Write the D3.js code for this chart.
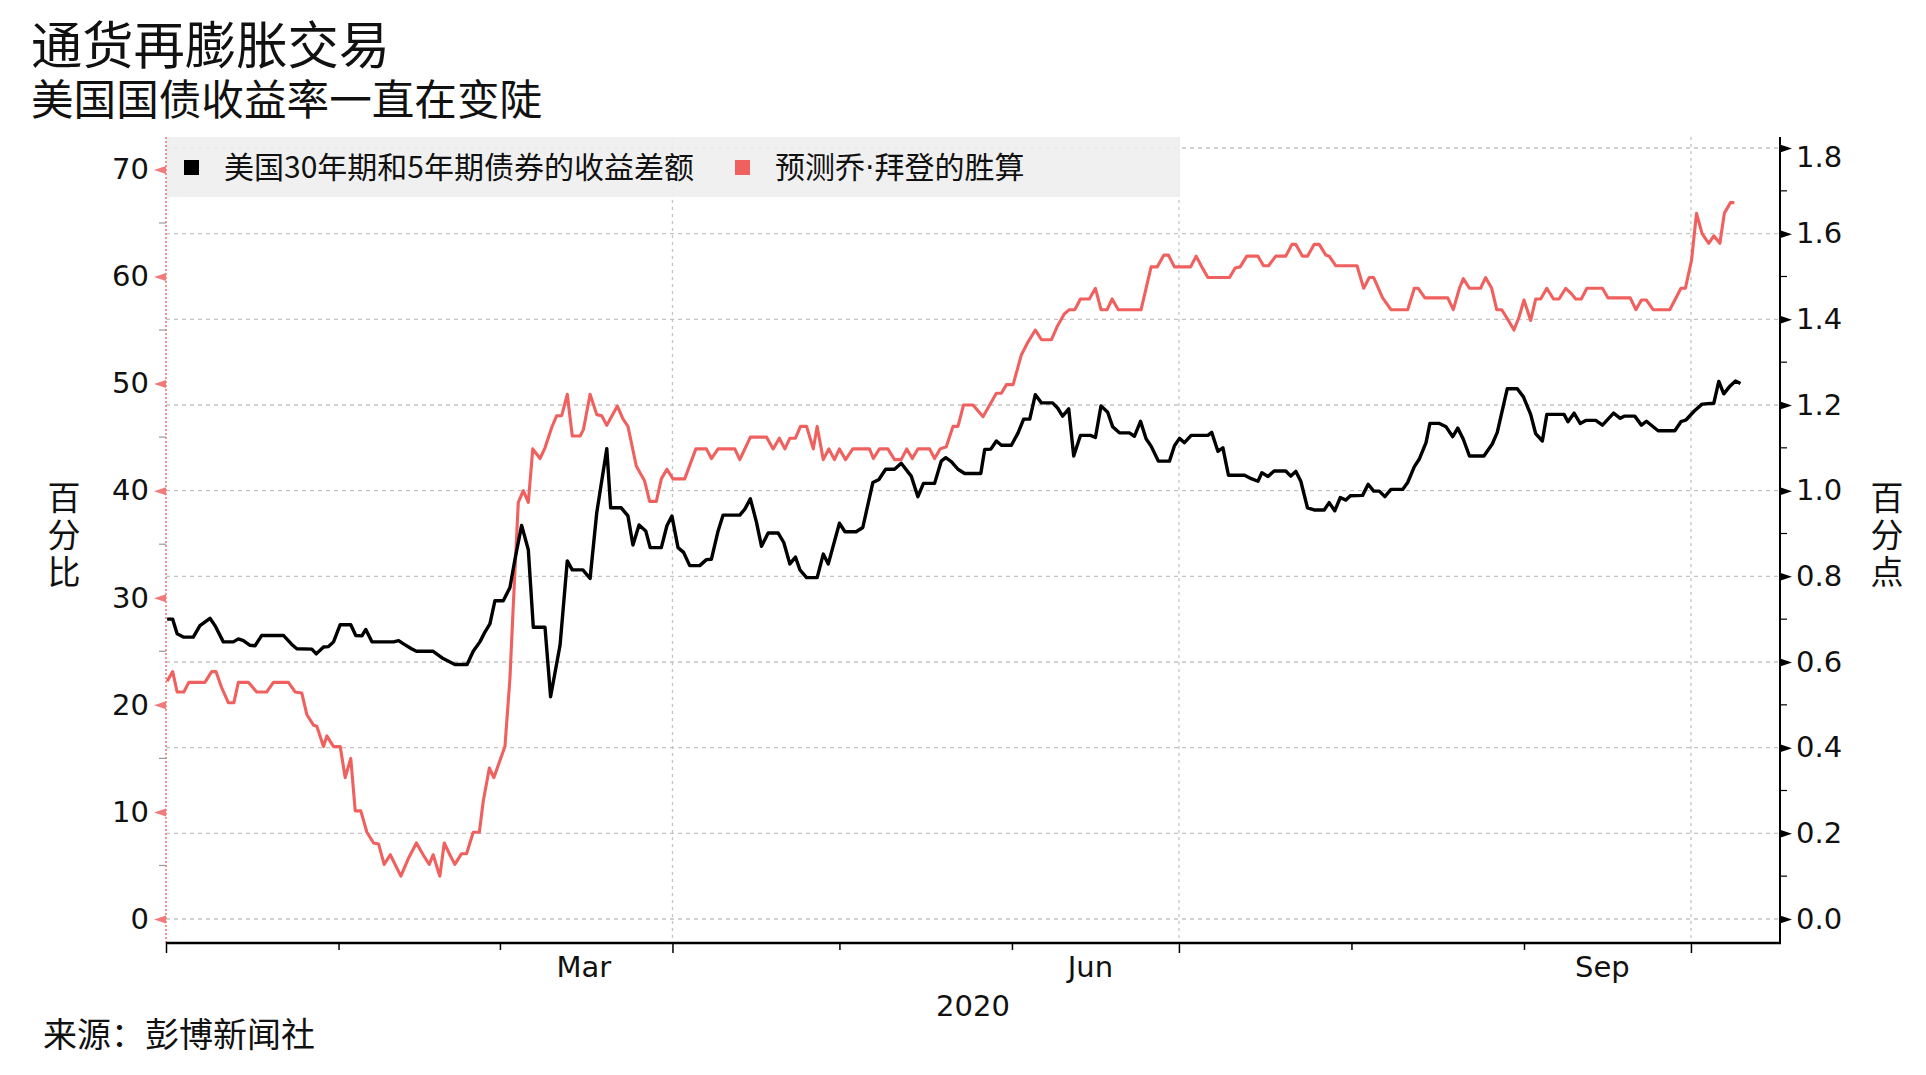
<!DOCTYPE html>
<html>
<head>
<meta charset="utf-8">
<script src="https://cdn.jsdelivr.net/npm/d3@7"></script>
<style>
  html, body { margin: 0; padding: 0; background: #fff; }
  svg { display: block; }
  .vtitle { writing-mode: vertical-rl; text-orientation: upright; }
</style>
</head>
<body>
<svg id="chart" width="1926" height="1075"></svg>
<script>
// ---------- DATA ----------
const titleText = "通货再膨胀交易";
const subtitleText = "美国国债收益率一直在变陡";
const sourceText = "来源：彭博新闻社";
const seriesNames = ["美国30年期和5年期债券的收益差额", "预测乔·拜登的胜算"];
const leftAxisTitle = "百分比";
const rightAxisTitle = "百分点";
const yearLabel = "2020";
const leftTicks = [0, 10, 20, 30, 40, 50, 60, 70];
const rightTicks = [0, 0.2, 0.4, 0.6, 0.8, 1.0, 1.2, 1.4, 1.6, 1.8];
const monthLabels = ["Mar", "Jun", "Sep"];
const monthLabelDates = ["2020-03-16", "2020-06-15", "2020-09-15"];

// days since 2020-01-01 ; spread in percentage points (right axis)
const blackDay = [0.2,1.2,2.0,3.2,4.9,6.1,7.9,8.8,10.3,12.1,13.0,13.9,15.1,16.0,17.2,21.1,22.6,23.5,26.2,27.0,28.3,29.2,30.1,31.3,33.2,34.1,35.2,35.9,37.0,40.9,41.8,42.6,44.1,45.0,48.0,49.8,51.9,54.1,55.2,56.4,57.3,58.2,59.1,60.6,61.8,62.7,63.9,65.1,66.0,68.1,69.1,70.8,72.1,73.0,74.9,76.2,77.4,79.2,79.9,81.8,83.0,83.9,85.0,86.2,87.0,89.0,90.0,90.9,92.0,93.0,94.1,95.9,97.1,98.0,99.2,100.1,103.1,104.0,105.0,106.1,107.0,108.2,110.0,111.0,112.1,113.1,113.9,115.1,117.0,118.1,119.0,121.0,122.0,124.0,125.2,127.0,128.1,129.3,130.9,132.1,133.9,135.1,136.1,138.1,139.3,140.1,141.1,142.3,143.5,145.3,146.4,147.1,148.2,149.2,150.1,151.9,153.1,154.1,155.2,156.2,157.3,159.3,160.2,161.1,162.2,163.1,164.3,166.1,167.0,168.0,169.2,170.1,171.3,173.1,174.0,175.1,176.1,177.0,178.3,180.3,181.2,182.1,183.0,184.2,187.2,187.9,189.0,189.9,190.9,193.8,195.0,196.2,196.9,198.0,199.1,201.2,202.1,203.0,203.9,205.1,206.3,208.1,209.0,210.0,211.0,212.0,212.8,215.0,216.0,217.0,218.0,219.0,220.1,222.2,223.1,224.3,225.2,226.4,227.1,228.8,230.0,231.2,232.1,233.1,234.2,236.8,238.3,239.2,241.0,242.8,243.9,245.2,246.1,247.3,248.1,251.2,251.9,253.0,254.1,255.1,256.9,258.1,260.1,261.3,262.0,263.9,265.1,266.0,268.1,271.1,272.2,273.1,274.6,276.0,278.1,279.0,279.9,281.0,282.0,282.9];
const blackVal = [0.700,0.700,0.666,0.658,0.658,0.685,0.702,0.685,0.647,0.647,0.654,0.650,0.639,0.638,0.662,0.662,0.641,0.631,0.630,0.619,0.635,0.636,0.647,0.687,0.687,0.662,0.661,0.676,0.647,0.647,0.650,0.643,0.631,0.625,0.625,0.608,0.594,0.594,0.625,0.647,0.670,0.689,0.743,0.743,0.774,0.840,0.919,0.862,0.681,0.681,0.519,0.639,0.836,0.815,0.815,0.795,0.949,1.098,0.960,0.960,0.941,0.873,0.920,0.906,0.867,0.867,0.918,0.941,0.867,0.856,0.825,0.825,0.839,0.840,0.906,0.943,0.943,0.957,0.981,0.926,0.870,0.901,0.901,0.879,0.829,0.845,0.815,0.797,0.797,0.852,0.829,0.924,0.904,0.904,0.914,1.019,1.026,1.050,1.050,1.064,1.034,0.986,1.017,1.017,1.069,1.077,1.068,1.050,1.040,1.040,1.040,1.096,1.097,1.116,1.106,1.106,1.135,1.167,1.167,1.224,1.205,1.205,1.193,1.174,1.191,1.081,1.129,1.129,1.124,1.198,1.183,1.149,1.135,1.135,1.127,1.162,1.121,1.104,1.069,1.069,1.105,1.122,1.112,1.129,1.129,1.136,1.092,1.100,1.036,1.036,1.028,1.022,1.042,1.033,1.046,1.046,1.034,1.045,1.022,0.960,0.955,0.955,0.972,0.953,0.984,0.978,0.988,0.989,1.015,0.999,0.999,0.986,1.003,1.003,1.019,1.056,1.074,1.112,1.157,1.157,1.149,1.126,1.146,1.120,1.081,1.081,1.109,1.136,1.238,1.238,1.219,1.178,1.133,1.116,1.178,1.178,1.161,1.181,1.157,1.164,1.164,1.153,1.181,1.169,1.174,1.174,1.153,1.162,1.140,1.140,1.161,1.165,1.186,1.202,1.204,1.255,1.226,1.244,1.256,1.250];

// days since 2020-01-01 ; Biden win odds in percent (left axis)
const redDay = [0.2,1.2,2.0,3.2,4.1,7.0,8.2,9.0,10.0,11.2,12.2,13.0,14.8,16.3,18.1,19.3,22.0,23.2,24.4,25.3,26.5,27.1,28.3,28.9,30.1,31.3,32.2,33.2,34.0,35.0,36.1,37.3,38.2,39.2,40.3,42.2,43.5,45.0,46.2,47.3,48.0,49.2,50.0,51.0,51.9,53.1,54.0,55.2,56.3,57.0,58.1,58.9,60.9,61.8,62.4,63.3,64.2,65.1,65.9,67.2,68.1,69.3,70.2,71.1,72.1,73.0,74.4,75.0,76.2,77.4,78.3,79.2,81.1,82.1,83.0,84.5,86.0,86.9,88.1,89.0,90.0,91.1,93.2,95.2,97.1,98.0,99.2,102.2,103.1,105.0,107.9,109.1,110.2,111.2,112.1,113.1,114.0,115.1,116.3,117.0,118.1,119.1,120.1,121.0,122.1,123.4,126.4,127.1,128.2,129.7,130.9,132.1,133.1,134.1,135.1,137.2,138.1,139.1,140.2,141.4,142.3,143.3,145.0,146.8,148.0,149.2,150.1,151.0,152.2,153.7,154.9,156.2,157.3,159.1,160.1,161.4,162.3,163.3,164.3,165.9,167.0,168.0,169.1,170.0,171.1,175.2,177.0,178.1,179.3,180.1,181.2,184.1,185.1,186.0,187.2,191.1,192.1,193.0,194.2,196.2,197.2,198.1,199.4,201.2,202.3,203.0,204.2,205.1,206.3,207.2,208.4,209.0,210.2,214.0,215.2,216.2,217.0,218.6,220.1,223.1,224.3,225.0,226.2,230.3,231.3,232.4,233.1,234.2,236.2,237.1,238.2,239.1,240.0,241.2,242.2,243.1,244.0,245.2,246.1,247.0,248.1,249.3,250.3,251.5,252.5,253.3,254.3,255.3,258.1,259.1,263.1,264.1,265.1,266.0,267.2,270.2,271.3,272.2,273.0,274.1,275.0,276.0,277.2,278.1,279.2,280.0,281.1,281.8];
const redVal = [22.2,23.1,21.2,21.2,22.1,22.1,23.1,23.1,21.6,20.2,20.2,22.1,22.1,21.2,21.2,22.1,22.1,21.2,21.1,19.1,18.1,18.0,16.1,17.1,16.1,16.1,13.2,15.0,10.1,10.1,8.1,7.1,7.0,5.1,6.0,4.0,5.6,7.1,6.0,5.1,6.0,4.0,7.1,6.0,5.1,6.1,6.1,8.1,8.1,11.0,14.1,13.2,16.1,22.5,29.3,38.9,40.0,38.9,43.9,43.0,44.0,45.9,47.0,47.0,49.0,45.1,45.1,45.7,49.0,47.1,47.0,46.1,47.9,46.7,46.0,42.3,40.9,39.0,39.0,41.1,42.0,41.1,41.1,43.9,43.9,43.0,43.9,43.9,42.9,45.0,45.0,43.9,44.9,43.9,44.9,44.9,46.0,46.0,43.9,46.0,42.9,43.9,42.9,43.9,42.9,43.9,43.9,43.0,43.9,43.9,42.9,42.9,43.9,43.0,43.9,43.9,43.0,43.9,44.1,46.0,46.0,48.0,48.0,46.9,48.0,49.1,49.1,49.9,49.9,52.7,53.9,55.0,54.1,54.1,55.3,56.5,56.9,56.9,57.9,57.9,58.9,56.9,56.9,57.9,56.9,56.9,60.9,60.9,62.0,62.0,60.9,60.9,61.9,61.0,59.9,59.9,60.8,60.9,61.9,61.9,61.0,61.0,61.9,61.9,63.0,63.0,61.9,61.9,63.0,63.0,62.0,61.9,61.0,61.0,58.9,59.9,59.9,58.0,56.9,56.9,58.9,58.9,58.0,58.0,56.9,58.9,59.8,58.9,58.9,59.9,58.9,56.9,56.9,55.9,55.0,56.2,57.8,55.9,57.9,57.9,58.9,57.9,57.9,58.9,58.4,57.9,57.9,58.9,58.9,58.0,58.0,56.9,57.8,57.8,56.9,56.9,58.0,58.9,58.9,61.5,65.9,64.0,63.1,63.8,63.1,65.9,66.9,66.9];

// ---------- LAYOUT ----------
const plot = { left: 166, right: 1780, top: 137, bottom: 943 };
const y0 = 919, yTop = 148;  // pixel of 0 and of the top tick
const startMs = Date.UTC(2020, 0, 1);
const dayToDate = d => new Date(startMs + d * 864e5);

const x = d3.scaleUtc()
  .domain([new Date(Date.UTC(2020, 0, 1)), new Date(Date.UTC(2020, 9, 17))])
  .range([plot.left, plot.right]);
const yR = d3.scaleLinear().domain([0, 1.8]).range([y0, yTop]);
const yL = d3.scaleLinear().domain([0, 72]).range([y0, yTop]);

const RED = "#f0605e";
const PINK = "#f27a7a";
const numFont = "'DejaVu Sans', Verdana, sans-serif";
const cjkFont = "'Noto Sans CJK SC', 'Noto Sans', sans-serif";

const svg = d3.select("#chart");

// Title block (title + subtitle as two lines of one text)
const head = svg.append("text").attr("font-family", cjkFont).attr("fill", "#111");
head.append("tspan").attr("x", 31).attr("y", 64).attr("font-size", 51.3).text(titleText);
head.append("tspan").attr("x", 31).attr("y", 115).attr("font-size", 42.6).text(subtitleText);

// Horizontal grid lines (at right-axis ticks)
svg.append("g").selectAll("line").data(rightTicks).join("line")
  .attr("x1", plot.left).attr("x2", plot.right)
  .attr("y1", d => yR(d)).attr("y2", d => yR(d))
  .attr("stroke", "#c4c4c4").attr("stroke-width", 1.3)
  .attr("stroke-dasharray", "4,4");

// Vertical grid lines at quarter starts
const quarterDates = d3.utcMonth.range(new Date(Date.UTC(2020, 3, 1)), new Date(Date.UTC(2020, 9, 2)), 3);
svg.append("g").selectAll("line").data(quarterDates).join("line")
  .attr("x1", d => x(d)).attr("x2", d => x(d))
  .attr("y1", plot.top).attr("y2", plot.bottom)
  .attr("stroke", "#c4c4c4").attr("stroke-width", 1.3)
  .attr("stroke-dasharray", "3,4");

// Legend
const lg = svg.append("g");
lg.append("rect").attr("x", plot.left).attr("y", plot.top)
  .attr("width", 1180 - plot.left).attr("height", 60)
  .attr("fill", "#eeeeee").attr("fill-opacity", 0.9);
const legendItems = [
  { name: seriesNames[0], color: "#000", sx: 184, tx: 224 },
  { name: seriesNames[1], color: RED, sx: 735, tx: 775 }
];
legendItems.forEach(it => {
  lg.append("rect").attr("x", it.sx).attr("y", 160).attr("width", 15).attr("height", 15).attr("fill", it.color);
  const t = lg.append("text").attr("x", it.tx).attr("y", 178)
    .attr("font-family", cjkFont).attr("font-size", 30).attr("fill", "#111");
  // render the middle dot narrow, as in the reference
  it.name.split(/(·)/).forEach(part => {
    const sp = t.append("tspan").text(part);
    if (part === "·") sp.attr("font-family", numFont);
  });
});

// Lines
const blackData = blackDay.map((d, i) => ({ date: dayToDate(d), v: blackVal[i] }));
const redData = redDay.map((d, i) => ({ date: dayToDate(d), v: redVal[i] }));

svg.append("path").datum(redData)
  .attr("fill", "none").attr("stroke", RED).attr("stroke-width", 3.1)
  .attr("stroke-linejoin", "round")
  .attr("d", d3.line().x(d => x(d.date)).y(d => yL(d.v)));
svg.append("path").datum(blackData)
  .attr("fill", "none").attr("stroke", "#000").attr("stroke-width", 3.4)
  .attr("stroke-linejoin", "round")
  .attr("d", d3.line().x(d => x(d.date)).y(d => yR(d.v)));

// Left axis (pink, dotted line)
svg.append("line").attr("x1", plot.left).attr("x2", plot.left)
  .attr("y1", plot.top).attr("y2", plot.bottom)
  .attr("stroke", PINK).attr("stroke-width", 1.6).attr("stroke-dasharray", "2,2");
const leftAxis = svg.append("g").attr("transform", `translate(${plot.left},0)`)
  .call(d3.axisLeft(yL).tickValues(leftTicks).tickSize(0).tickPadding(17).tickFormat(d3.format("d")));
leftAxis.select(".domain").remove();
leftAxis.selectAll(".tick text").attr("font-family", numFont).attr("font-size", 29).attr("fill", "#111");
leftAxis.selectAll(".tick").append("path").attr("d", "M0,-4L-12,0L0,4Z").attr("fill", PINK);
const leftMinor = d3.range(5, 70, 10);
svg.append("g").selectAll("line").data(leftMinor).join("line")
  .attr("x1", plot.left - 7).attr("x2", plot.left)
  .attr("y1", d => yL(d)).attr("y2", d => yL(d))
  .attr("stroke", "#999").attr("stroke-width", 1.2);

// Right axis (black)
const rightAxis = svg.append("g").attr("transform", `translate(${plot.right},0)`)
  .call(d3.axisRight(yR).tickValues(rightTicks).tickSize(0).tickPadding(16).tickFormat(d3.format(".1f")));
rightAxis.select(".domain").remove();
rightAxis.selectAll(".tick text").attr("font-family", numFont).attr("font-size", 29).attr("fill", "#111")
  .attr("dy", d => (d === 1.8 ? "0.65em" : "0.32em"));
rightAxis.selectAll(".tick").append("path").attr("d", "M0,-4L12,0L0,4Z").attr("fill", "#000");
const rightMinor = d3.range(0.1, 1.8, 0.2);
svg.append("g").selectAll("line").data(rightMinor).join("line")
  .attr("x1", plot.right).attr("x2", plot.right + 7)
  .attr("y1", d => yR(d)).attr("y2", d => yR(d))
  .attr("stroke", "#000").attr("stroke-width", 1.2);
svg.append("line").attr("x1", plot.right).attr("x2", plot.right)
  .attr("y1", plot.top).attr("y2", plot.bottom + 1)
  .attr("stroke", "#000").attr("stroke-width", 2);

// Axis titles (vertical text, one text element each)
function vertTitle(txt, cx) {
  svg.append("text").attr("class", "vtitle")
    .attr("x", cx).attr("y", 481)
    .attr("font-family", cjkFont).attr("font-size", 33)
    .attr("letter-spacing", 4).attr("fill", "#111")
    .text(txt);
}
vertTitle(leftAxisTitle, 64);
vertTitle(rightAxisTitle, 1887);

// X axis
const months = d3.utcMonth.range(new Date(Date.UTC(2020, 0, 1)), new Date(Date.UTC(2020, 9, 2)));
const xAxis = svg.append("g").attr("transform", `translate(0,${plot.bottom})`)
  .call(d3.axisBottom(x).tickValues(months).tickSize(7).tickFormat(""));
xAxis.select(".domain").remove();
xAxis.selectAll(".tick line").attr("stroke", "#000").attr("stroke-width", 1.5)
  .attr("y2", d => (d.getUTCMonth() % 3 === 0 ? 10 : 7));
svg.append("line").attr("x1", plot.left).attr("x2", plot.right + 1)
  .attr("y1", plot.bottom).attr("y2", plot.bottom)
  .attr("stroke", "#000").attr("stroke-width", 2.5);

const labelDates = monthLabelDates.map(s => d3.utcParse("%Y-%m-%d")(s));
const xLab = svg.append("g").attr("transform", `translate(0,${plot.bottom})`)
  .call(d3.axisBottom(x).tickValues(labelDates).tickSize(0).tickPadding(13)
    .tickFormat((d, i) => monthLabels[i]));
xLab.select(".domain").remove();
xLab.selectAll(".tick text").attr("font-family", numFont).attr("font-size", 29).attr("fill", "#111");

svg.append("text").attr("x", (plot.left + plot.right) / 2).attr("y", 1016)
  .attr("text-anchor", "middle").attr("font-family", numFont).attr("font-size", 29).attr("fill", "#111")
  .text(yearLabel);

// Source
svg.append("text").attr("x", 43).attr("y", 1047)
  .attr("font-family", cjkFont).attr("font-size", 34).attr("fill", "#111")
  .text(sourceText);
</script>
</body>
</html>
